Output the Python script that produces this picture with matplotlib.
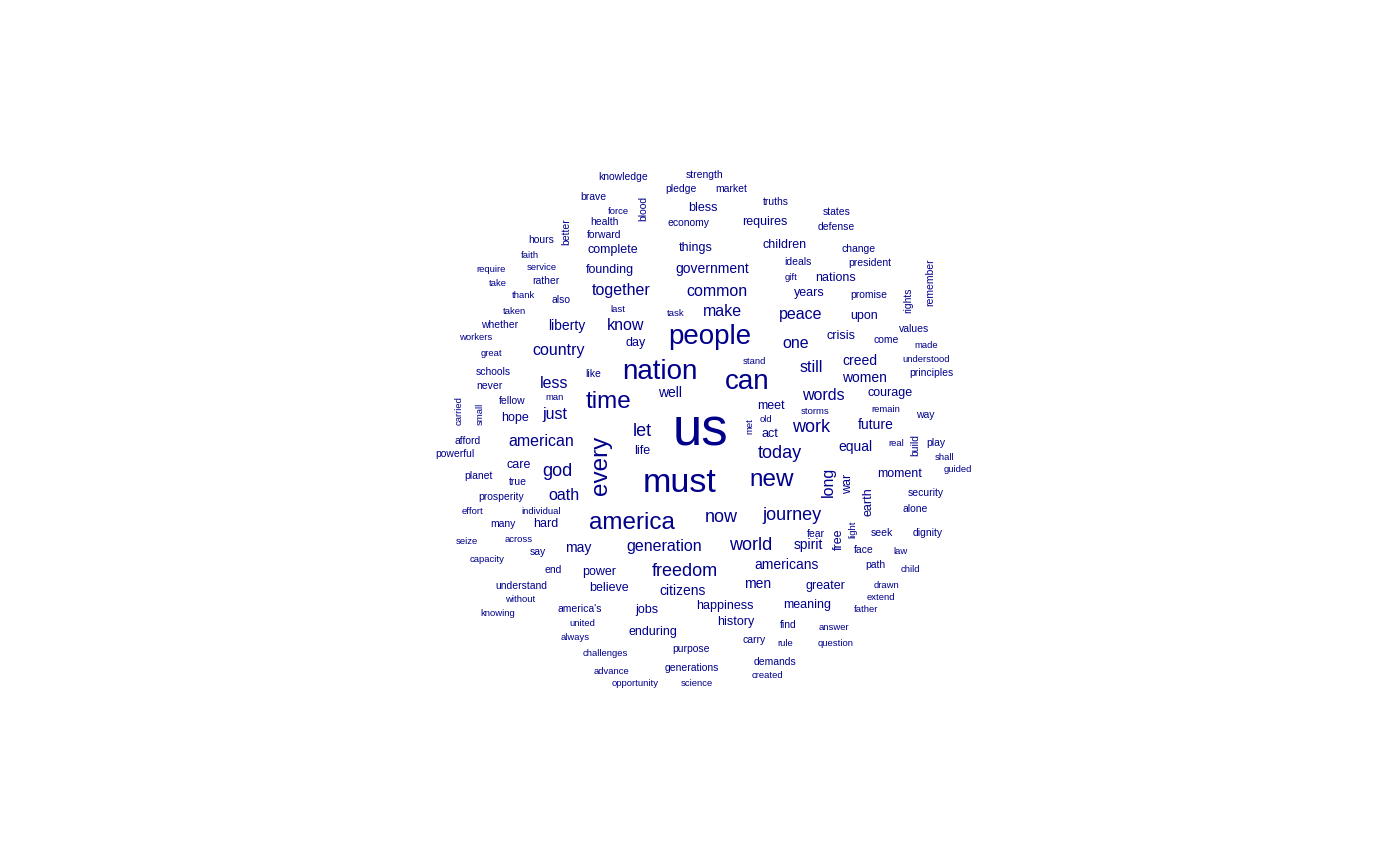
import matplotlib
matplotlib.use("Agg")
import matplotlib.pyplot as plt

SZ = {"A": 38, "B": 24.5, "C": 20, "D": 17.5, "E": 13, "E2": 11.5, "F+": 10, "F": 9, "G": 7.5, "H": 6.8}

words = [
("knowledge",623,177,"G",0),("strength",705,175,"G",0),("pledge",681,189,"G",0),("market",731,189,"G",0),
("brave",593,197,"G",0),("force",618,211,"H",0),("blood",643,208,"G",90),("bless",703,208,"F",0),
("truths",776,202,"G",0),("states",837,212,"G",0),("health",604,222,"G",0),("economy",688,223,"G",0),
("requires",765,222,"F",0),("defense",836,227,"G",0),("better",566,232,"G",90),("forward",604,235,"G",0),
("hours",541,240,"G",0),("complete",613,250,"F",0),("things",696,248,"F",0),("children",785,245,"F",0),
("change",859,249,"G",0),("faith",530,256,"H",0),("ideals",798,262,"G",0),("president",870,263,"G",0),
("remember",930,282,"G",90),("require",491,269,"H",0),("service",542,268,"H",0),("founding",610,270,"F",0),
("government",712,269,"F+",0),("gift",791,278,"H",0),("nations",836,278,"F",0),("take",498,284,"H",0),
("rather",546,281,"G",0),("together",621,291,"E2",0),("common",717,291,"E2",0),("years",809,293,"F",0),
("promise",869,295,"G",0),("rights",908,300,"G",90),("thank",523,295,"H",0),("also",561,300,"G",0),
("last",618,310,"H",0),("taken",514,311,"H",0),("task",676,313,"H",0),("make",722,312,"E2",0),
("peace",801,315,"E2",0),("upon",864,316,"F",0),("whether",500,325,"G",0),("liberty",567,326,"F+",0),
("know",626,326,"E2",0),("values",914,329,"G",0),("workers",476,338,"H",0),("people",710,337,"C",0),
("crisis",841,336,"F",0),("come",886,340,"G",0),("made",926,346,"H",0),("day",636,343,"F",0),
("one",796,344,"E2",0),("country",559,351,"E2",0),("great",491,353,"H",0),("nation",660,372,"C",0),
("stand",754,362,"H",0),("creed",860,361,"F+",0),("understood",926,359,"H",0),("schools",493,372,"G",0),
("can",747,382,"C",0),("still",811,367,"E2",0),("principles",931,373,"G",0),("like",593,374,"G",0),
("women",864,378,"F+",0),("never",489,386,"G",0),("less",554,383,"E2",0),("time",609,402,"D",0),
("words",823,395,"E2",0),("courage",890,393,"F",0),("man",555,398,"H",0),("well",670,393,"F+",0),
("fellow",512,401,"G",0),("carried",459,411,"H",90),("small",480,414,"H",90),("hope",515,418,"F",0),
("just",555,415,"E2",0),("meet",771,406,"F",0),("storms",815,411,"H",0),("remain",886,409,"H",0),
("way",925,415,"G",0),("us",700,432,"A",0),("old",766,420,"H",0),("met",750,426,"H",90),
("work",811,427,"E",0),("future",876,425,"F+",0),("act",770,434,"F",0),("let",642,431,"E",0),
("american",541,442,"E2",0),("afford",468,441,"G",0),("build",915,445,"G",90),("real",896,444,"H",0),
("play",936,443,"G",0),("life",642,451,"F",0),("equal",855,447,"F+",0),("every",601,465,"D",90),
("today",780,453,"E",0),("powerful",455,454,"G",0),("shall",945,458,"H",0),("care",519,465,"F",0),
("god",557,471,"E",0),("moment",900,474,"F",0),("guided",958,470,"H",0),("planet",478,476,"G",0),
("long",828,482,"E2",90),("war",848,484,"F",90),("must",680,484,"B",0),("new",772,480,"D",0),
("true",518,482,"G",0),("security",926,493,"G",0),("earth",868,502,"F",90),("prosperity",501,497,"G",0),
("oath",564,496,"E2",0),("effort",472,511,"H",0),("individual",541,511,"H",0),("alone",915,509,"G",0),
("america",632,523,"D",0),("now",721,517,"E",0),("journey",792,515,"E",0),("many",503,524,"G",0),
("hard",546,524,"F",0),("light",853,529,"H",90),("free",839,539,"F",90),("seek",882,533,"G",0),
("dignity",928,533,"G",0),("fear",816,534,"G",0),("seize",467,541,"H",0),("across",519,539,"H",0),
("spirit",808,545,"F+",0),("generation",664,547,"E2",0),("world",751,545,"E",0),("may",578,548,"F+",0),
("say",538,552,"G",0),("face",864,550,"G",0),("law",901,551,"H",0),("capacity",487,560,"H",0),
("americans",787,565,"F+",0),("path",875,565,"G",0),("end",553,570,"G",0),("power",599,572,"F",0),
("freedom",685,571,"E",0),("child",910,569,"H",0),("greater",825,586,"F",0),("drawn",887,585,"H",0),
("men",758,584,"F+",0),("understand",521,586,"G",0),("believe",609,588,"F",0),("citizens",683,591,"F+",0),
("extend",881,597,"H",0),("without",520,599,"H",0),("meaning",807,605,"F",0),("happiness",725,606,"F",0),
("father",866,610,"H",0),("america's",580,609,"G",0),("jobs",647,610,"F",0),("knowing",498,613,"H",0),
("history",736,622,"F",0),("united",582,624,"H",0),("find",788,625,"G",0),("answer",834,628,"H",0),
("enduring",653,632,"F",0),("always",575,637,"H",0),("carry",754,640,"G",0),("rule",785,643,"H",0),
("question",836,643,"H",0),("purpose",691,649,"G",0),("challenges",605,654,"H",0),("demands",775,662,"G",0),
("generations",692,668,"G",0),("advance",612,671,"H",0),("created",767,675,"H",0),("opportunity",635,684,"H",0),
("science",697,684,"H",0),
]

fig = plt.figure(figsize=(14, 8.65), dpi=100)
ax = fig.add_axes([0, 0, 1, 1])
ax.set_xlim(0, 1400)
ax.set_ylim(865, 0)
ax.axis("off")
for w, x, y, s, r in words:
    ax.text(x, y, w, fontsize=SZ[s], rotation=r, ha="center", va="center",
            color="#00008B", family="Liberation Sans")
fig.savefig("out.png", dpi=100, facecolor="white")
